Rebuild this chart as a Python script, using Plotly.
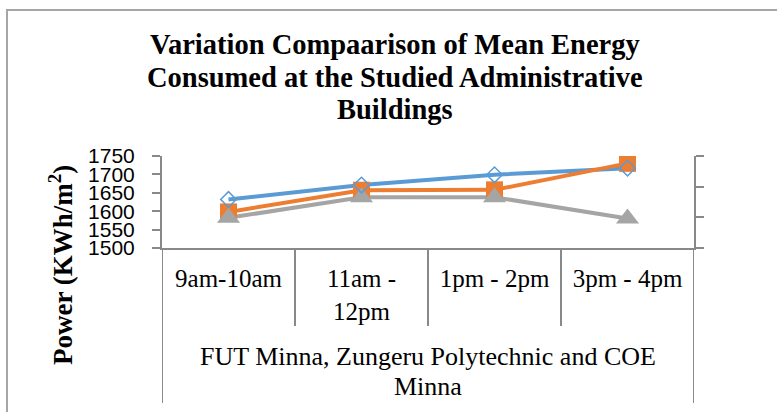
import plotly.graph_objects as go

categories = ["9am-10am", "11am -<br>12pm", "1pm - 2pm", "3pm - 4pm"]
group_lines = ["FUT Minna, Zungeru Polytechnic and COE", "Minna"]
series_blue = [1632, 1671, 1699, 1717]
series_orange = [1598, 1657, 1658, 1730]
series_gray = [1582, 1638, 1638, 1580]
y_ticks = [1500, 1550, 1600, 1650, 1700, 1750]
title_lines = ["Variation Compaarison of Mean Energy",
               "Consumed at the Studied Administrative",
               "Buildings"]
y_title = "Power (KWh/m<sup>2</sup>)"

W, H = 777, 412
L, R, T, B = 162, 83, 156, 164
pw, ph = W - L - R, H - T - B
AX = "#898989"

def px_x(px):
    return (px - L) / pw

def px_y(py):
    return (H - B - py) / ph

fig = go.Figure()

for vals, col in [(series_blue, "#5B9BD5"), (series_orange, "#ED7D31"), (series_gray, "#A5A5A5")]:
    fig.add_trace(go.Scatter(x=categories, y=vals, mode="lines",
                             line=dict(color=col, width=4), showlegend=False, hoverinfo="skip"))
fig.add_trace(go.Scatter(x=categories, y=series_orange, mode="markers",
                         marker=dict(symbol="square", size=17, color="#ED7D31"), showlegend=False))
fig.add_trace(go.Scatter(x=categories, y=series_gray, mode="markers",
                         marker=dict(symbol="triangle-up", size=20, color="#A5A5A5"), showlegend=False))
fig.add_trace(go.Scatter(x=categories, y=series_blue, mode="markers",
                         marker=dict(symbol="diamond-open", size=12, color="#5B9BD5",
                                     line=dict(width=1.5, color="#5B9BD5")), showlegend=False))
fig.add_trace(go.Scatter(x=categories, y=[None] * len(categories), yaxis="y2",
                         mode="lines", showlegend=False, hoverinfo="skip"))

shapes = []
n = len(categories)
for i in range(n + 1):
    outer = i == 0 or i == n
    shapes.append(dict(type="line", xref="x", yref="paper", x0=i - 0.5, x1=i - 0.5,
                       y0=0, y1=px_y(403) if outer else px_y(326),
                       line=dict(color=AX, width=2)))
shapes.append(dict(type="rect", xref="paper", yref="paper",
                   x0=px_x(7), x1=px_x(800), y0=px_y(430), y1=px_y(10),
                   line=dict(color="#A6A6A6", width=2), layer="below"))

annotations = []
for txt, cy in zip(title_lines, [44, 77, 109]):
    annotations.append(dict(text="<b>" + txt + "</b>", xref="paper", yref="paper",
                            x=px_x(395), y=px_y(cy), xanchor="center", yanchor="middle",
                            showarrow=False,
                            font=dict(family="Liberation Serif", size=28.5, color="black")))
annotations.append(dict(text="<b>" + y_title + "</b>", xref="paper", yref="paper",
                        x=px_x(61), y=px_y(265), xanchor="center", yanchor="middle",
                        textangle=-90, showarrow=False,
                        font=dict(family="Liberation Serif", size=27, color="black")))
for txt, cy in zip(group_lines, [356, 386]):
    annotations.append(dict(text=txt, xref="paper", yref="paper",
                            x=0.5, y=px_y(cy), xanchor="center", yanchor="middle",
                            showarrow=False,
                            font=dict(family="Liberation Serif", size=26, color="black")))

fig.update_layout(
    width=W, height=H,
    margin=dict(l=L, r=R, t=T, b=B, pad=0),
    paper_bgcolor="white", plot_bgcolor="white",
    showlegend=False,
    xaxis=dict(type="category", range=[-0.5, n - 0.5], showgrid=False, zeroline=False,
               showline=True, linecolor=AX, linewidth=2, ticks="",
               ticklabelstandoff=7,
               tickfont=dict(family="Liberation Serif", size=25, color="black")),
    yaxis=dict(range=[1500, 1750], tickvals=y_ticks, showgrid=False, zeroline=False,
               showline=True, linecolor=AX, linewidth=2, ticks="outside", ticklen=8,
               tickcolor=AX, tickwidth=2, ticklabelstandoff=13,
               tickfont=dict(family="Liberation Sans", size=21, color="black")),
    yaxis2=dict(overlaying="y", side="right", range=[0, 3], dtick=1, showgrid=False,
                zeroline=False, showline=True, linecolor=AX, linewidth=2,
                ticks="outside", ticklen=8, tickcolor=AX, tickwidth=2,
                showticklabels=False),
    shapes=shapes,
    annotations=annotations,
)

fig.write_html("out.html", config={"displayModeBar": False},
               post_script="document.body.style.margin='0px';document.body.style.overflow='hidden';")
